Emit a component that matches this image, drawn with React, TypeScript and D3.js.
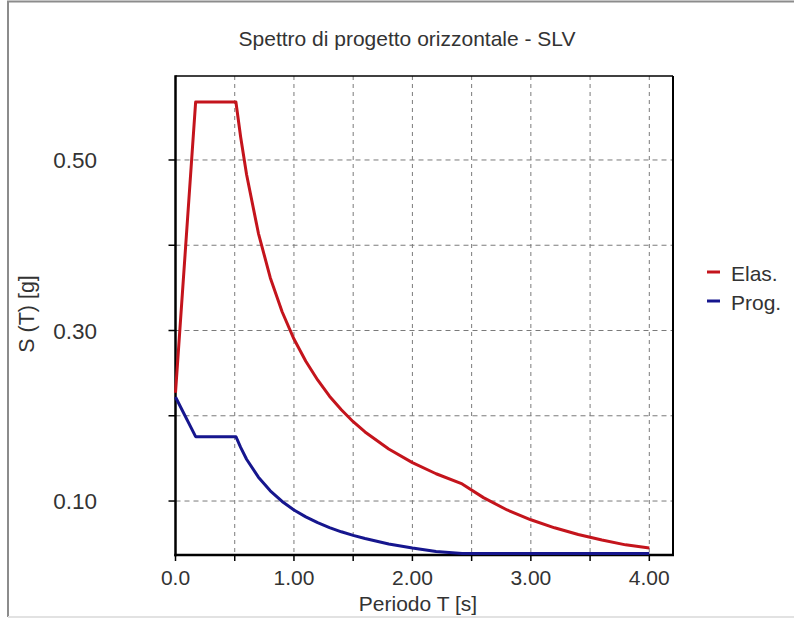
import React from "react";
import * as d3 from "d3";

// ---- data ----
const periods = [0, 0.17, 0.51, 0.55, 0.6, 0.7, 0.8, 0.9, 1.0, 1.1, 1.2, 1.3, 1.4, 1.5, 1.6, 1.8, 2.0, 2.2, 2.42, 2.6, 2.8, 3.0, 3.2, 3.4, 3.6, 3.8, 4.0];
const elasValues = [0.227, 0.568, 0.568, 0.527, 0.483, 0.414, 0.362, 0.322, 0.29, 0.264, 0.242, 0.223, 0.207, 0.193, 0.181, 0.161, 0.145, 0.132, 0.12, 0.104, 0.0895, 0.078, 0.0686, 0.0607, 0.0542, 0.0486, 0.045];
const progValues = [0.222, 0.1755, 0.1755, 0.163, 0.149, 0.128, 0.112, 0.0995, 0.0895, 0.0814, 0.0746, 0.0689, 0.0639, 0.0597, 0.056, 0.0497, 0.0448, 0.0407, 0.0385, 0.0385, 0.0385, 0.0385, 0.0385, 0.0385, 0.0385, 0.0385, 0.0385];

const xGridValues = [0.5, 1.0, 1.5, 2.0, 2.5, 3.0, 3.5, 4.0];
const xTickValues = [0, 0.5, 1.0, 1.5, 2.0, 2.5, 3.0, 3.5, 4.0];
const xLabelValues = [0, 1, 2, 3, 4];
const xLabelTexts = ["0.0", "1.00", "2.00", "3.00", "4.00"];
const yTickValues = [0.1, 0.2, 0.3, 0.4, 0.5];
const yLabelValues = [0.1, 0.3, 0.5];
const yLabelTexts = ["0.10", "0.30", "0.50"];

const seriesNames = ["Elas.", "Prog."];
const seriesColors = ["#c4141c", "#16168e"];

const title = "Spettro di progetto orizzontale - SLV";
const xTitle = "Periodo T [s]";
const yTitle = "S (T) [g]";

const W = 794;
const H = 626;
const plot = { left: 175.5, right: 673, top: 76, bottom: 555 };

export default function App() {
  const x = d3.scaleLinear().domain([0, 4.2]).range([plot.left, plot.right]);
  const y = d3.scaleLinear().domain([0.0367, 0.5985]).range([plot.bottom, plot.top]);

  const series = [elasValues, progValues];
  const line = d3
    .line<number>()
    .x((_, i) => x(periods[i]))
    .y((v) => y(v));

  const font = "'Liberation Sans', Arial, sans-serif";
  const textColor = "#333";

  return (
    <svg
      width={W}
      height={H}
      style={{ position: "absolute", left: 0, top: 0, display: "block", background: "#fff" }}
      fontFamily={font}
    >
      {/* outer sunken frame */}
      <line x1={7} x2={W} y1={1.5} y2={1.5} stroke="#8c8c8c" strokeWidth={2} />
      <line x1={8} x2={8} y1={1} y2={617} stroke="#8c8c8c" strokeWidth={2} />
      <line x1={8} x2={W} y1={617} y2={617} stroke="#e2e2e2" strokeWidth={2} />

      <text x={407} y={46} textAnchor="middle" fontSize={21} fill={textColor}>
        {title}
      </text>

      {/* grid */}
      {xGridValues.map((v) => (
        <line key={"gx" + v} x1={x(v)} x2={x(v)} y1={plot.top} y2={plot.bottom} stroke="#7a7a7a" strokeWidth={1} strokeDasharray="4,4" />
      ))}
      {yTickValues.map((v) => (
        <line key={"gy" + v} x1={plot.left} x2={plot.right} y1={y(v)} y2={y(v)} stroke="#7a7a7a" strokeWidth={1} strokeDasharray="5,4" />
      ))}

      {/* plot frame */}
      <line x1={plot.left} x2={plot.right} y1={plot.top} y2={plot.top} stroke="#000" strokeWidth={1.5} />
      <line x1={plot.right} x2={plot.right} y1={plot.top} y2={plot.bottom} stroke="#000" strokeWidth={2} />
      <line x1={plot.left} x2={plot.left} y1={plot.top - 0.75} y2={plot.bottom + 1.25} stroke="#000" strokeWidth={2.5} />
      <line x1={plot.left - 1.25} x2={plot.right + 1} y1={plot.bottom} y2={plot.bottom} stroke="#000" strokeWidth={2.5} />

      {/* ticks */}
      {xTickValues.map((v) => (
        <line key={"tx" + v} x1={x(v)} x2={x(v)} y1={plot.bottom} y2={plot.bottom + 6} stroke="#000" strokeWidth={1.5} />
      ))}
      {yTickValues.map((v) => (
        <line key={"ty" + v} x1={plot.left - 7} x2={plot.left} y1={y(v)} y2={y(v)} stroke="#000" strokeWidth={1.5} />
      ))}

      {/* tick labels */}
      {xLabelValues.map((v, i) => (
        <text key={"lx" + v} x={x(v)} y={585} textAnchor="middle" fontSize={21} fill={textColor}>
          {xLabelTexts[i]}
        </text>
      ))}
      {yLabelValues.map((v, i) => (
        <text key={"ly" + v} x={97} y={y(v) + 8} textAnchor="end" fontSize={22.5} fill={textColor}>
          {yLabelTexts[i]}
        </text>
      ))}

      {/* axis titles */}
      <text x={418} y={611} textAnchor="middle" fontSize={21} fill={textColor}>
        {xTitle}
      </text>
      <text transform={`translate(34, 314) rotate(-90)`} textAnchor="middle" fontSize={21.5} fill={textColor}>
        {yTitle}
      </text>

      {/* curves */}
      {series.map((s, i) => (
        <path key={"s" + i} d={line(s) || ""} fill="none" stroke={seriesColors[i]} strokeWidth={3} strokeLinejoin="round" />
      ))}

      {/* legend */}
      {seriesNames.map((n, i) => (
        <g key={"lg" + n}>
          <line x1={707} x2={720} y1={272 + i * 29} y2={272 + i * 29} stroke={seriesColors[i]} strokeWidth={3} />
          <text x={731} y={281 + i * 29} fontSize={21} fill={textColor}>
            {n}
          </text>
        </g>
      ))}
    </svg>
  );
}
